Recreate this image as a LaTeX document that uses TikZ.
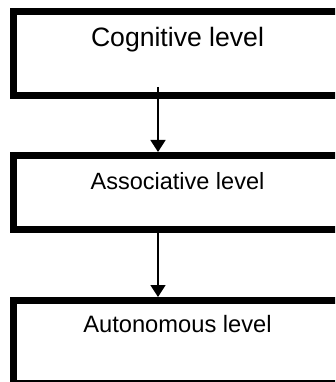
\documentclass[tikz,border=0pt]{standalone}
\usepackage{fontspec}
\setmainfont{Liberation Sans}
\usetikzlibrary{arrows.meta}
\begin{document}
\begin{tikzpicture}[x=1pt,y=-1pt,
  levelbox/.style={draw=black, line width=7pt, fill=white, inner sep=0pt, minimum width=328pt},
  leveltext/.style={anchor=base, inner sep=0pt},
  flowarrow/.style={draw=black, line width=1.6pt, -{Triangle[width=15pt,length=12pt]}}]
\useasboundingbox (0,0) rectangle (335,382);
\clip (0,0) rectangle (335,382);
\node[levelbox, minimum height=84.5pt] (b1) at (177.5,53.75) {};
\node[levelbox, minimum height=74pt] (b2) at (177.5,192.5) {};
\node[levelbox, minimum height=83pt] (b3) at (177.5,342) {};
\node[leveltext, font=\fontsize{26.6}{30}\selectfont] (t1) at (177.5,46.7) {Cognitive level};
\node[leveltext, font=\fontsize{23.5}{28}\selectfont] (t2) at (177.5,189) {Associative level};
\node[leveltext, font=\fontsize{23.7}{28}\selectfont] (t3) at (177.5,332.3) {Autonomous level};
\coordinate (s1) at (158,87);
\coordinate (s2) at (158,227);
\draw[flowarrow] (s1) -- (s1 |- b2.north);
\draw[flowarrow] (s2) -- (s2 |- b3.north);
\end{tikzpicture}
\end{document}
